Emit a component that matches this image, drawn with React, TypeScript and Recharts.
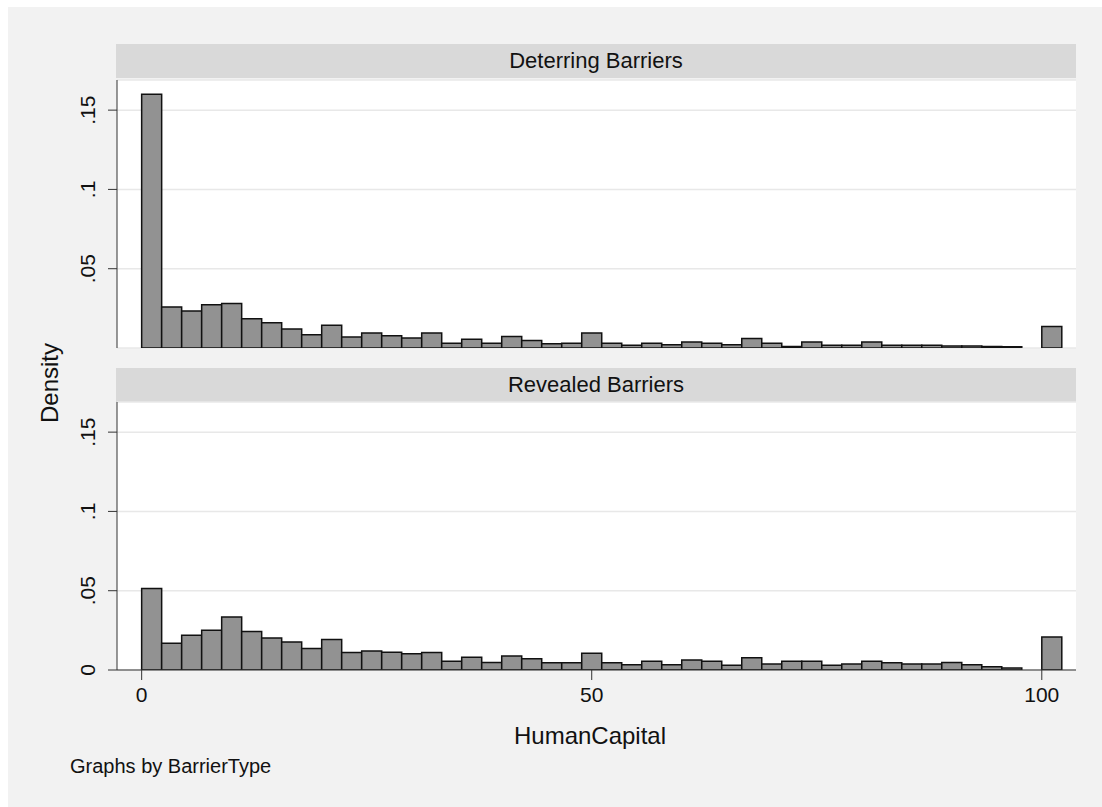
import React from 'react';
import { BarChart, Bar, XAxis, YAxis, CartesianGrid } from 'recharts';

// histogram bins (left edge of each bin, HumanCapital units)
const binStarts = [
  0, 2.22, 4.44, 6.67, 8.89, 11.11, 13.33, 15.56, 17.78, 20, 22.22, 24.44,
  26.67, 28.89, 31.11, 33.33, 35.56, 37.78, 40, 42.22, 44.44, 46.67, 48.89,
  51.11, 53.33, 55.56, 57.78, 60, 62.22, 64.44, 66.67, 68.89, 71.11, 73.33,
  75.56, 77.78, 80, 82.22, 84.44, 86.67, 88.89, 91.11, 93.33, 95.56, 97.78, 100,
];

const deterring = [
  0.16, 0.0259, 0.0233, 0.0273, 0.0281, 0.0185, 0.016, 0.012, 0.0084, 0.0143,
  0.0069, 0.0095, 0.0078, 0.0063, 0.0095, 0.003, 0.0055, 0.003, 0.0073, 0.0047,
  0.0027, 0.003, 0.0095, 0.003, 0.0018, 0.003, 0.002, 0.0038, 0.003, 0.002,
  0.006, 0.003, 0.001, 0.0038, 0.0018, 0.0018, 0.0038, 0.0018, 0.0018, 0.0018,
  0.0012, 0.0012, 0.001, 0.0008, 0, 0.0136,
];

const revealed = [
  0.0514, 0.0168, 0.0219, 0.0251, 0.0335, 0.0242, 0.0202, 0.0177, 0.0135, 0.0192,
  0.011, 0.012, 0.0112, 0.0103, 0.011, 0.0055, 0.008, 0.0048, 0.0088, 0.0071,
  0.0046, 0.0046, 0.0105, 0.0046, 0.0033, 0.0055, 0.0033, 0.0063, 0.0055, 0.003,
  0.0078, 0.0038, 0.0055, 0.0055, 0.003, 0.0038, 0.0055, 0.0046, 0.0038, 0.0038,
  0.0048, 0.0033, 0.002, 0.0012, 0, 0.0208,
];

const densityTicks = [0, 0.05, 0.1, 0.15];
const densityLabels = ['0', '.05', '.1', '.15'];
const capitalTicks = [0, 50, 100];
const panelTitles = ['Deterring Barriers', 'Revealed Barriers'];

const BIN_WIDTH = 100 / 45;
const X_DOMAIN: [number, number] = [-2.74, 103.8];
const Y_MAX = 0.169;

const FONT = '"Liberation Sans", Arial, Helvetica, sans-serif';
const PLOT_W = 959;
const Y_AXIS_W = 49;
const CHART_W = Y_AXIS_W + PLOT_W;
const PLOT_H = 268;

const pxPerUnit = PLOT_W / (X_DOMAIN[1] - X_DOMAIN[0]);
const padLeft = (binStarts[0] - X_DOMAIN[0]) * pxPerUnit;
const padRight = (X_DOMAIN[1] - (binStarts[binStarts.length - 1] + BIN_WIDTH)) * pxPerUnit;

const rows = (values: number[]) =>
  binStarts.map((s, i) => ({ bin: i, mid: s + BIN_WIDTH / 2, density: values[i] }));

const DensityTick = (props: any) => {
  const { x, y, payload } = props;
  const cx = x - 20.5;
  const idx = densityTicks.indexOf(payload.value);
  return (
    <text
      x={cx}
      y={y}
      transform={`rotate(-90 ${cx} ${y})`}
      textAnchor="middle"
      dominantBaseline="central"
      fontSize={21}
      fontFamily={FONT}
      fill="#111"
    >
      {idx >= 0 ? densityLabels[idx] : payload.value}
    </text>
  );
};

const Panel = ({ values, showX, top }: { values: number[]; showX: boolean; top: number }) => (
  <div style={{ position: 'absolute', left: 60, top }}>
    <BarChart
      width={CHART_W}
      height={10 + PLOT_H + (showX ? 40 : 2)}
      data={rows(values)}
      margin={{ top: 10, right: 0, bottom: showX ? 0 : 2, left: 0 }}
      barCategoryGap={0}
      barGap={0}
    >
      <CartesianGrid
        xAxisId="num"
        vertical={false}
        stroke="#e8e8e8"
        strokeWidth={1.5}
        fill="#ffffff"
        fillOpacity={1}
      />
      <XAxis
        xAxisId="bins"
        dataKey="bin"
        type="category"
        hide
        height={0}
        padding={{ left: padLeft, right: padRight }}
      />
      <XAxis
        xAxisId="num"
        dataKey="mid"
        type="number"
        domain={X_DOMAIN}
        allowDataOverflow
        ticks={capitalTicks}
        hide={!showX}
        height={showX ? 40 : 0}
        tickSize={10}
        tickMargin={7}
        stroke="#333"
        tick={{ fontSize: 21, fontFamily: FONT, fill: '#111' }}
      />
      <YAxis
        domain={[0, Y_MAX]}
        allowDataOverflow
        ticks={densityTicks}
        width={Y_AXIS_W}
        tickSize={9}
        tickMargin={0}
        stroke="#333"
        tick={<DensityTick />}
      />
      <Bar
        xAxisId="bins"
        dataKey="density"
        fill="#929292"
        stroke="#111"
        strokeWidth={1.5}
        isAnimationActive={false}
      />
    </BarChart>
  </div>
);

const stripStyle = (top: number): React.CSSProperties => ({
  position: 'absolute',
  left: 108,
  top,
  width: PLOT_W + 1,
  height: 34,
  background: '#d9d9d9',
  fontFamily: FONT,
  fontSize: 22,
  color: '#111',
  display: 'flex',
  alignItems: 'center',
  justifyContent: 'center',
});

export default function App() {
  return (
    <div
      style={{
        position: 'absolute',
        left: 8,
        top: 7,
        width: 1094,
        height: 800,
        background: '#f2f2f2',
        fontFamily: FONT,
      }}
    >
      <div style={stripStyle(37)}>{panelTitles[0]}</div>
      <div style={stripStyle(361)}>{panelTitles[1]}</div>
      <Panel values={deterring} showX={false} top={63} />
      <Panel values={revealed} showX top={385} />
      <div
        style={{
          position: 'absolute',
          left: 42 - 60,
          top: 376 - 14,
          width: 120,
          height: 28,
          lineHeight: '28px',
          textAlign: 'center',
          fontSize: 24,
          color: '#111',
          transform: 'rotate(-90deg)',
        }}
      >
        Density
      </div>
      <div
        style={{
          position: 'absolute',
          left: 382,
          top: 715,
          width: 400,
          textAlign: 'center',
          fontSize: 24,
          color: '#111',
        }}
      >
        HumanCapital
      </div>
      <div style={{ position: 'absolute', left: 62, top: 748, fontSize: 20, color: '#111' }}>
        Graphs by BarrierType
      </div>
    </div>
  );
}
